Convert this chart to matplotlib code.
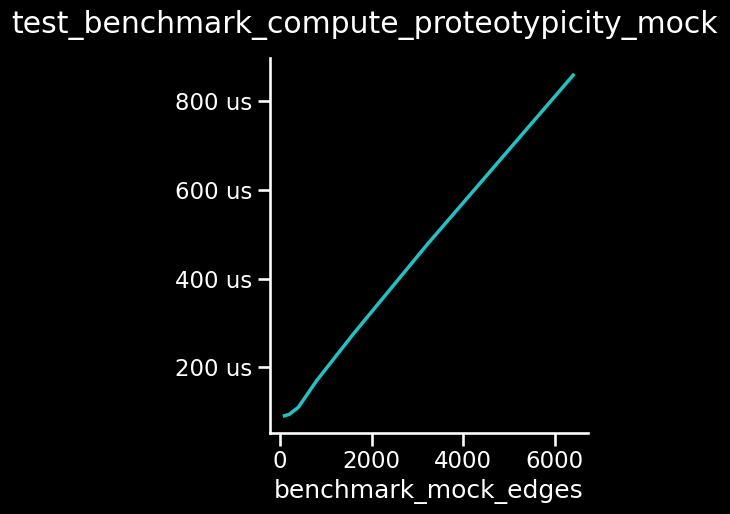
import numpy as np
import matplotlib.pyplot as plt
import seaborn as sns
from matplotlib.ticker import FuncFormatter

# benchmark timings
edges = [100, 200, 400, 800, 1600, 3200, 6400]
times_us = [91, 94, 110, 170, 275, 475, 858]

plt.style.use('dark_background')
sns.set_context('talk')
plt.rcParams['font.family'] = ['DejaVu Sans']

fig = plt.figure(figsize=(7.3, 5.14), dpi=100)
ax = fig.add_axes([0.37, 0.158, 0.435, 0.729])

ax.plot(edges, times_us, color='#20c2c6', linewidth=2.5)

ax.yaxis.set_major_formatter(FuncFormatter(lambda v, p: '{:.0f} us'.format(v)))
ax.set_yticks([200, 400, 600, 800])
ax.set_xticks([0, 2000, 4000, 6000])
ax.set_xlabel('benchmark_mock_edges')
fig.text(0.5, 0.951, 'test_benchmark_compute_proteotypicity_mock', fontsize=21.5,
         ha='center', va='center', color='white')
sns.despine(ax=ax)

fig.savefig('out.png', dpi=100, facecolor='black')
